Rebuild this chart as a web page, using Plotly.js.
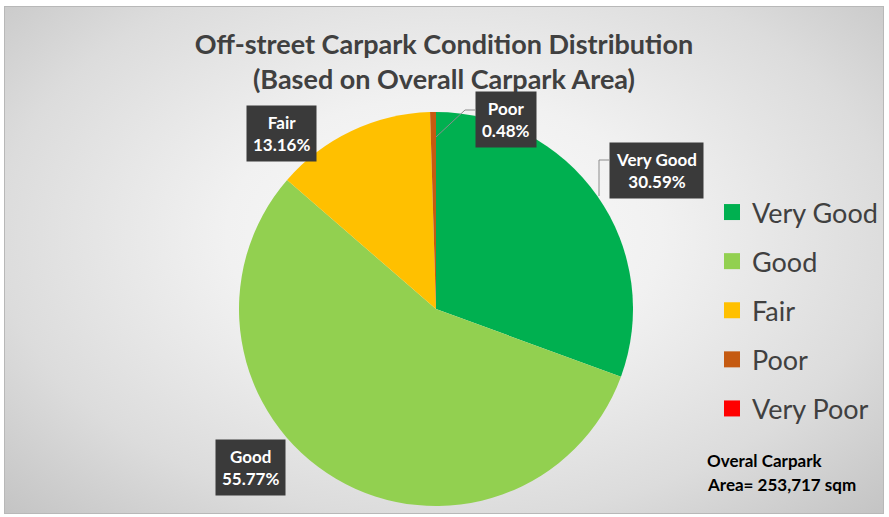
<!DOCTYPE html>
<html>
<head>
<meta charset="utf-8">
<script src="https://cdn.plot.ly/plotly-3.0.1.min.js"></script>
<style>
  html, body { margin: 0; padding: 0; background: #ffffff; }
  #frame {
    position: absolute; left: 4px; top: 6px; width: 878px; height: 506px;
    border: 1px solid #b8b8b8;
    background: radial-gradient(ellipse farthest-corner at 50% 45%, #fbfbfb 0%, #f1f1f1 35%, #dcdcdc 72%, #c4c4c4 100%);
  }
  #chart { position: absolute; left: 0; top: 0; width: 889px; height: 517px; }
</style>
</head>
<body>
<div id="frame"></div>
<div id="chart"></div>
<script>
// ---- data ----
const categories = ['Very Good', 'Good', 'Fair', 'Poor', 'Very Poor'];
const shares = [30.59, 55.77, 13.16, 0.48, 0];
const sliceColors = ['#00B050', '#92D050', '#FFC000', '#C55A11', '#FF0000'];
const titleLines = ['Off-street Carpark Condition Distribution', '(Based on Overall Carpark Area)'];
const noteLines = ['Overal Carpark', 'Area= 253,717 sqm'];

// ---- layout helpers (pixel -> paper) ----
const W = 889, H = 517;
const px = x => x / W;
const py = y => 1 - y / H;

const FONT = 'Lato, "Open Sans", sans-serif';

// pie geometry
const cx = 436, cy = 309, r = 197;

const pie = {
  type: 'pie',
  labels: categories,
  values: shares,
  sort: false,
  direction: 'clockwise',
  rotation: 0,
  marker: { colors: sliceColors, line: { width: 0 } },
  textinfo: 'none',
  hoverinfo: 'none',
  showlegend: false,
  domain: { x: [px(cx - r), px(cx + r)], y: [py(cy + r), py(cy - r)] }
};

// legend entries (square markers)
const legendTraces = categories.map((c, i) => ({
  type: 'scatter', mode: 'markers', x: [null], y: [null],
  name: c, legendgroup: 'g' + i,
  marker: { symbol: 'square', size: 16, color: sliceColors[i] },
  hoverinfo: 'none'
}));

// data label boxes (centre positions in pixels, for Very Good, Good, Fair, Poor)
const labelPos = [[656.5, 170], [251, 467], [281.5, 133.5], [506, 120]];
const labelAnn = labelPos.map((p, i) => ({
  xref: 'paper', yref: 'paper', x: px(p[0]), y: py(p[1]),
  xanchor: 'center', yanchor: 'middle', showarrow: false,
  text: '<b>' + categories[i] + '<br>' + shares[i].toFixed(2) + '%</b>',
  font: { family: FONT, size: 17, color: '#ffffff' },
  bgcolor: '#3a3a3a', borderpad: 6, align: 'center'
}));

const noteAnn = noteLines.map((t, i) => ({
  xref: 'paper', yref: 'paper', x: px(705), y: py(460 + 24 * i),
  xanchor: 'left', yanchor: 'middle', showarrow: false,
  text: '<b>' + t + '</b>',
  font: { family: FONT, size: 17, color: '#000000' }
}));

const leader = { color: '#8c8c8c', width: 1 };
const shapes = [
  { type: 'line', xref: 'paper', yref: 'paper', x0: px(436), y0: py(137), x1: px(465), y1: py(110), line: leader },
  { type: 'line', xref: 'paper', yref: 'paper', x0: px(465), y0: py(110), x1: px(475), y1: py(110), line: leader },
  { type: 'line', xref: 'paper', yref: 'paper', x0: px(599), y0: py(196), x1: px(599), y1: py(160), line: leader },
  { type: 'line', xref: 'paper', yref: 'paper', x0: px(599), y0: py(160), x1: px(609), y1: py(160), line: leader }
];

const layout = {
  width: W, height: H,
  margin: { l: 0, r: 0, t: 0, b: 0 },
  paper_bgcolor: 'rgba(0,0,0,0)',
  plot_bgcolor: 'rgba(0,0,0,0)',
  title: {
    text: '<b>' + titleLines.join('<br>') + '</b>',
    x: 0.4994, xanchor: 'center', xref: 'paper',
    y: py(54), yanchor: 'top', yref: 'paper',
    font: { family: FONT, size: 27, color: '#404040' }
  },
  xaxis: { visible: false }, yaxis: { visible: false },
  showlegend: true,
  legend: {
    x: px(712), xanchor: 'left', y: py(188), yanchor: 'top',
    font: { family: FONT, size: 27, color: '#404040' },
    bgcolor: 'rgba(0,0,0,0)', traceorder: 'grouped', tracegroupgap: 11
  },
  annotations: labelAnn.concat(noteAnn),
  shapes: shapes
};

Plotly.newPlot('chart', [pie].concat(legendTraces), layout, { displayModeBar: false, staticPlot: true });
</script>
</body>
</html>
